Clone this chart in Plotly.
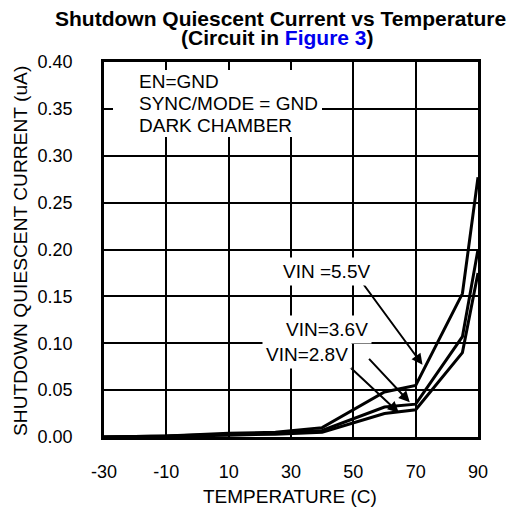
import plotly.graph_objects as go

temp = [-30, -10, 10, 25, 40, 60, 70, 85, 90]
vin_5v5 = [0.0, 0.001, 0.004, 0.005, 0.010, 0.048, 0.055, 0.153, 0.277]
vin_3v6 = [0.0, 0.001, 0.003, 0.004, 0.007, 0.032, 0.035, 0.107, 0.200]
vin_2v8 = [0.0, 0.0005, 0.002, 0.003, 0.005, 0.025, 0.029, 0.090, 0.175]

x_ticks = [-30, -10, 10, 30, 50, 70, 90]
y_ticks = [0.0, 0.05, 0.10, 0.15, 0.20, 0.25, 0.30, 0.35, 0.40]

font = "Liberation Sans, Arial, sans-serif"
OFF = 8  # page body margin
L, R, T, B = 104, 478, 62, 437
W, H = 516 - OFF, 510 - OFF
PW, PH = R - L, B - T


def px(x):
    return (x - L) / PW


def py(y):
    return (B - y) / PH


fig = go.Figure()
for name, ys in [("VIN=5.5V", vin_5v5), ("VIN=3.6V", vin_3v6), ("VIN=2.8V", vin_2v8)]:
    fig.add_trace(go.Scatter(x=temp, y=ys, mode="lines", name=name,
                             line=dict(color="black", width=3), showlegend=False))

# white box behind the condition notes (covers grid lines)
bx0, bx1, by0, by1 = 113, 322, 70, 137
fig.add_annotation(x=px((bx0 + bx1) / 2), y=py((by0 + by1) / 2), xref="paper", yref="paper",
                   text=" ", showarrow=False, xanchor="center", yanchor="middle",
                   width=bx1 - bx0, height=by1 - by0, bgcolor="white", borderpad=0,
                   borderwidth=0)

notes = ["EN=GND", "SYNC/MODE = GND", "DARK CHAMBER"]
for t, yy in zip(notes, [81.5, 103.5, 126]):
    fig.add_annotation(x=px(137), y=py(yy), xref="paper", yref="paper",
                       text=t, showarrow=False, xanchor="left", yanchor="middle",
                       font=dict(family=font, size=19, color="black"))

# arrow annotations: (text, head x, head y, tail x, tail y, label left px, label center px)
arrows = [
    ("VIN =5.5V", 72.2, 0.077, 53.0, 0.164, 279, 271),
    ("VIN=3.6V", 68.1, 0.037, 54.6, 0.085, 282, 329),
    ("VIN=2.8V", 64.6, 0.026, 47.2, 0.080, 262, 354),
]
for text, hx, hy, tx, ty, lx, ly in arrows:
    fig.add_annotation(x=hx, y=hy, ax=tx, ay=ty, axref="x", ayref="y",
                       xref="x", yref="y", text="", showarrow=True,
                       arrowhead=2, arrowsize=1.1, arrowwidth=2, arrowcolor="black")
    fig.add_annotation(x=px(lx), y=py(ly), xref="paper", yref="paper",
                       text=text, showarrow=False, xanchor="left", yanchor="middle",
                       bgcolor="white", borderpad=3,
                       font=dict(family=font, size=19, color="black"))

# title lines
fig.add_annotation(x=px(280), y=py(18), xref="paper", yref="paper", showarrow=False,
                   text="<b>Shutdown Quiescent Current vs Temperature</b>",
                   xanchor="center", yanchor="middle", borderpad=0,
                   font=dict(family=font, size=21, color="black"))
fig.add_annotation(x=px(277), y=py(38), xref="paper", yref="paper", showarrow=False,
                   text="<b>(Circuit in <span style='color:#0000ee'>Figure 3</span>)</b>",
                   xanchor="center", yanchor="middle", borderpad=0,
                   font=dict(family=font, size=21, color="black"))

# axis titles
fig.add_annotation(x=px(290), y=py(497), xref="paper", yref="paper", showarrow=False,
                   text="TEMPERATURE (C)", xanchor="center", yanchor="middle",
                   font=dict(family=font, size=19, color="black"))
fig.add_annotation(x=px(20), y=py(251), xref="paper", yref="paper", showarrow=False,
                   text="SHUTDOWN QUIESCENT CURRENT (uA)", textangle=-90,
                   xanchor="center", yanchor="middle",
                   font=dict(family=font, size=19.2, color="black"))

fig.update_layout(
    width=W, height=H,
    margin=dict(l=L - OFF, r=516 - R, t=T - OFF, b=510 - B, autoexpand=False),
    paper_bgcolor="white", plot_bgcolor="white",
    font=dict(family=font, size=18, color="black"),
    xaxis=dict(range=[-30, 90], tickvals=x_ticks, ticktext=[str(v) for v in x_ticks],
               showgrid=True, gridcolor="black", gridwidth=2,
               showline=True, linecolor="black", linewidth=2.5, mirror=True,
               ticks="", ticklabelstandoff=17, zeroline=False, automargin=False,
               tickfont=dict(family=font, size=18)),
    yaxis=dict(range=[0, 0.4], tickvals=y_ticks, ticktext=[f"{v:.2f}" for v in y_ticks],
               showgrid=True, gridcolor="black", gridwidth=2,
               showline=True, linecolor="black", linewidth=2.5, mirror=True,
               ticks="", ticklabelstandoff=25, zeroline=False, automargin=False,
               tickfont=dict(family=font, size=18)),
)

fig.write_html("out.html")
